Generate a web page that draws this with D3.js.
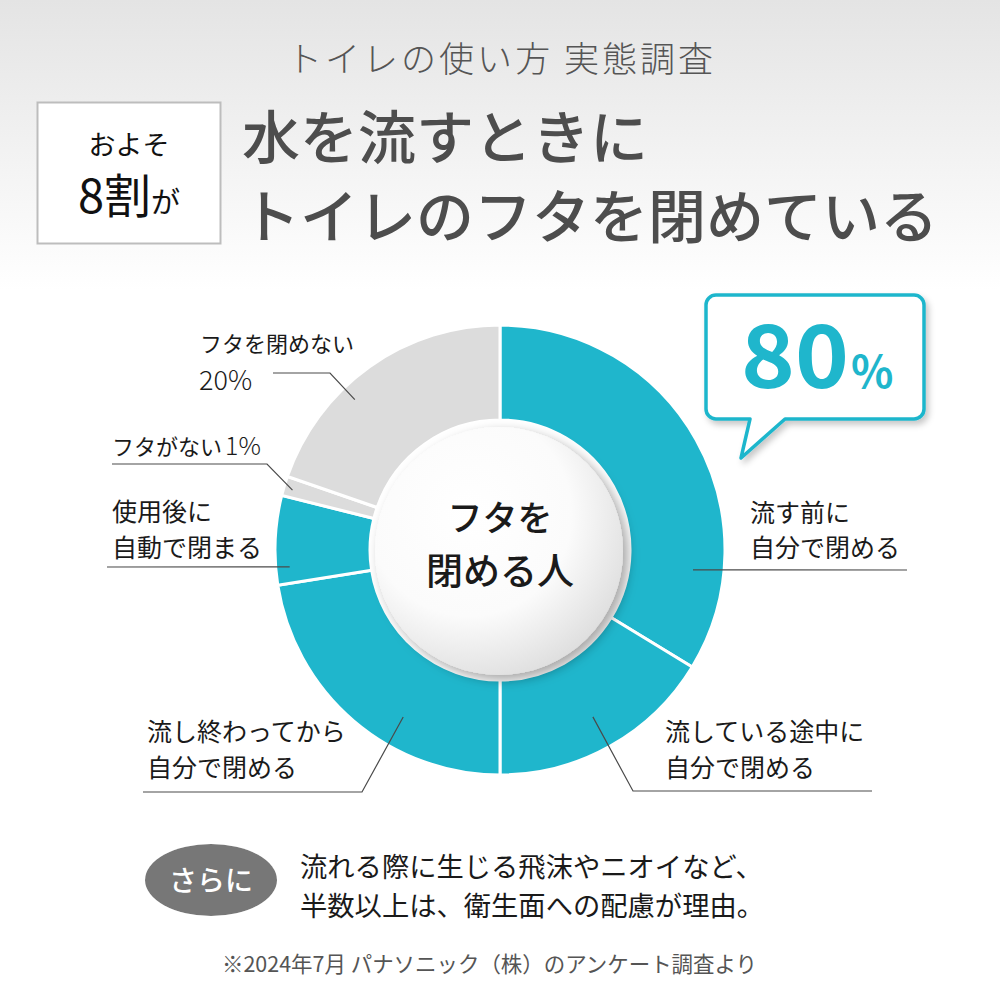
<!DOCTYPE html>
<html><head><meta charset="utf-8">
<script src="https://cdn.jsdelivr.net/npm/d3@7"></script>
<style>html,body{margin:0;padding:0;background:#fff;} svg{display:block;font-family:"Noto Sans CJK JP","Noto Sans",sans-serif;}</style>
</head><body><svg id="c" width="1000" height="1000"></svg>
<script>
// ---- data ----
const categories = ["流す前に自分で閉める","流している途中に自分で閉める","流し終わってから自分で閉める","使用後に自動で閉まる","フタがない","フタを閉めない"];
const values = [33.7, 16.3, 22.5, 6.4, 1.4, 19.7];
const groups = ["close","close","close","close","nolid","open"];
const labelLines = [["流す前に","自分で閉める"],["流している途中に","自分で閉める"],["流し終わってから","自分で閉める"],["使用後に","自動で閉まる"],["フタがない","1%"],["フタを閉めない","20%"]];
const closeShare = "80";
const subtitle = "トイレの使い方 実態調査";
const headline = ["水を流すときに","トイレのフタを閉めている"];
const boxText = ["およそ","8割","が"];
const centerText = ["フタを","閉める人"];
const noteTag = "さらに";
const noteLines = ["流れる際に生じる飛沫やニオイなど、","半数以上は、衛生面への配慮が理由。"];
const source = "※2024年7月 パナソニック（株）のアンケート調査より";

// ---- layout ----
const svg = d3.select("#c");
const cx = 500, cy = 550, R = 225, r0 = 130;
const colors = {close:"#1fb6cc", nolid:"#dcdcdc", open:"#dcdcdc"};
const defs = svg.append("defs");
const hg = defs.append("linearGradient").attr("id","hg").attr("x1",0).attr("y1",0).attr("x2",0).attr("y2",1);
hg.append("stop").attr("offset","0%").attr("stop-color","#e4e4e4");
hg.append("stop").attr("offset","100%").attr("stop-color","#ffffff");
const rg = defs.append("radialGradient").attr("id","rg").attr("cx","38%").attr("cy","35%").attr("r","75%");
rg.append("stop").attr("offset","0%").attr("stop-color","#ffffff");
rg.append("stop").attr("offset","55%").attr("stop-color","#fbfbfb");
rg.append("stop").attr("offset","100%").attr("stop-color","#d9d9d9");
const sh = defs.append("filter").attr("id","sh").attr("x","-30%").attr("y","-30%").attr("width","160%").attr("height","160%");
sh.append("feDropShadow").attr("dx",5).attr("dy",5).attr("stdDeviation",6).attr("flood-color","#000").attr("flood-opacity",0.35);
const sh2 = defs.append("filter").attr("id","sh2").attr("x","-20%").attr("y","-20%").attr("width","140%").attr("height","140%");
sh2.append("feDropShadow").attr("dx",3).attr("dy",4).attr("stdDeviation",3).attr("flood-color","#000").attr("flood-opacity",0.22);
const sh3 = defs.append("filter").attr("id","sh3").attr("x","-20%").attr("y","-20%").attr("width","140%").attr("height","140%");
sh3.append("feDropShadow").attr("dx",0).attr("dy",0).attr("stdDeviation",3).attr("flood-color","#fff").attr("flood-opacity",1);

svg.append("rect").attr("x",0).attr("y",0).attr("width",1000).attr("height",290).attr("fill","url(#hg)");

// subtitle
svg.append("text").attr("x",287).attr("y",72)
  .attr("font-size",35).attr("fill","#555").attr("font-weight",300)
  .attr("textLength",426).attr("lengthAdjust","spacing").text(subtitle);

// box
svg.append("rect").attr("x",37.5).attr("y",102.5).attr("width",183).attr("height",141)
  .attr("fill","#fff").attr("stroke","#bdbdbd").attr("stroke-width",2);
svg.append("text").attr("x",129).attr("y",155).attr("text-anchor","middle").attr("font-size",27).attr("fill","#111").text(boxText[0]);
const bt = svg.append("text").attr("x",129).attr("y",213).attr("text-anchor","middle").attr("fill","#111");
bt.append("tspan").attr("font-size",47).attr("font-weight",400).text(boxText[1]);
bt.append("tspan").attr("font-size",29).text(boxText[2]);

// headline
headline.forEach((t,i)=>{
  svg.append("text").attr("x",242).attr("y",[159,238][i]).attr("font-size",58).attr("font-weight",500)
    .attr("fill","#4d4d4d").text(t);
});

// donut
const pie = d3.pie().sort(null).value(d=>d.v);
const data = categories.map((c,i)=>({c, v:values[i], g:groups[i], lines:labelLines[i]}));
const arcs = pie(data);
const arc = d3.arc().innerRadius(r0).outerRadius(R);
const g = svg.append("g").attr("transform",`translate(${cx},${cy})`);
g.selectAll("path.seg").data(arcs).join("path").attr("class","seg")
  .attr("d",arc).attr("fill",d=>colors[d.data.g]).attr("stroke","#fff").attr("stroke-width",3);

// centre disc
g.append("circle").attr("cx",-1).attr("cy",1).attr("r",124).attr("fill","url(#rg)").attr("filter","url(#sh)");
centerText.forEach((t,i)=>{
  g.append("text").attr("x",0).attr("y",[-19,35][i]).attr("text-anchor","middle")
   .attr("font-size",[35,37][i]).attr("font-weight",500).attr("fill","#1a1a1a").text(t);
});

// labels + leaders
const pol = (deg, rr)=>[cx + rr*Math.sin(deg*Math.PI/180), cy - rr*Math.cos(deg*Math.PI/180)];
const leaders = [
  {a:95.9, r:194, pts:[[907,570]]},
  {a:150.9, r:191, pts:[[633,791],[872,791]]},
  {a:210.1, r:193, pts:[[362,792],[143,792]]},
  {a:265.4, r:211, pts:[[107,567]]},
  {a:286.1, r:216, pts:[[267,464],[112,464]]},
  {a:316, r:209, pts:[[330,373],[273,373]]}
];
leaders.forEach((L,i)=>{
  const p = [pol(L.a,L.r)].concat(L.pts);
  svg.append("path").attr("d",d3.line()(p)).attr("fill","none").attr("stroke","#4a4a4a").attr("stroke-width",1.2);
});
const lab = [
  {x:750, y:[522,557]}, {x:665, y:[741,777]}, {x:147, y:[741,777]}, {x:112, y:[521,557]}
];
lab.forEach((L,i)=>{
  data[i].lines.forEach((t,j)=>{
    svg.append("text").attr("x",L.x).attr("y",L.y[j]).attr("font-size",25).attr("fill","#1a1a1a").text(t);
  });
});
// no lid
const nl = svg.append("text").attr("x",112).attr("y",455).attr("fill","#1a1a1a");
nl.append("tspan").attr("font-size",22).text(data[4].lines[0]);
nl.append("tspan").attr("font-size",25).attr("font-weight",300).attr("dx",3).text(data[4].lines[1]);
svg.append("text").attr("x",200).attr("y",352).attr("font-size",22).attr("fill","#1a1a1a").text(data[5].lines[0]);
svg.append("text").attr("x",199).attr("y",390).attr("font-size",27).attr("font-weight",300).attr("fill","#1a1a1a").text(data[5].lines[1]);

// bubble
const bub = d3.path();
const bx0=706, by0=295, bx1=924, by1=419, rr=10;
bub.moveTo(bx0+rr,by0); bub.lineTo(bx1-rr,by0); bub.arcTo(bx1,by0,bx1,by0+rr,rr);
bub.lineTo(bx1,by1-rr); bub.arcTo(bx1,by1,bx1-rr,by1,rr);
bub.lineTo(785,by1); bub.lineTo(741,458); bub.lineTo(750,by1);
bub.lineTo(bx0+rr,by1); bub.arcTo(bx0,by1,bx0,by1-rr,rr);
bub.lineTo(bx0,by0+rr); bub.arcTo(bx0,by0,bx0+rr,by0,rr); bub.closePath();
svg.append("path").attr("d",bub.toString()).attr("fill","#fff").attr("stroke","#1fb6cc").attr("stroke-width",3.5)
  .attr("stroke-linejoin","round").attr("filter","url(#sh2)");
svg.append("text").attr("x",741).attr("y",388).attr("fill","#1fb6cc").attr("font-weight",700)
  .attr("font-size",87).attr("textLength",108).attr("lengthAdjust","spacingAndGlyphs").text(closeShare);
svg.append("text").attr("x",851).attr("y",388).attr("fill","#1fb6cc").attr("font-weight",700)
  .attr("font-size",44).text("%");

// note
svg.append("ellipse").attr("cx",211).attr("cy",880).attr("rx",66).attr("ry",36).attr("fill","#777").attr("filter","url(#sh3)");
svg.append("text").attr("x",211).attr("y",891).attr("text-anchor","middle").attr("font-size",28).attr("font-weight",500).attr("fill","#fff").text(noteTag);
noteLines.forEach((t,i)=>{
  svg.append("text").attr("x",300).attr("y",[877,916][i]).attr("font-size",27.3).attr("fill","#1a1a1a").text(t);
});
svg.append("text").attr("x",222).attr("y",972).attr("font-size",21.5).attr("fill","#555")
  .attr("textLength",535).attr("lengthAdjust","spacingAndGlyphs").text(source);
</script></body></html>
